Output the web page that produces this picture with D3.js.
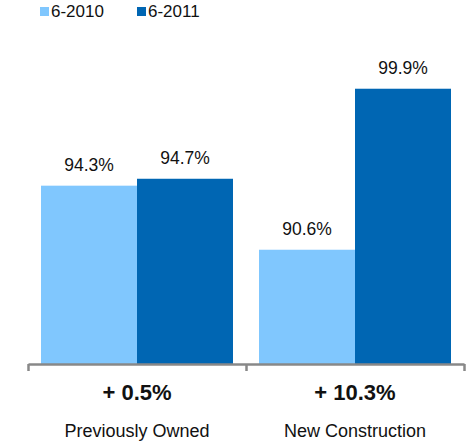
<!DOCTYPE html>
<html>
<head>
  <meta charset="utf-8">
  <style>
    body { margin: 0; background: #fff; }
    text { font-family: "Liberation Sans", Arial, Helvetica, sans-serif; fill: #111; }
  </style>
</head>
<body>
<div id="chart"></div>
<script src="https://d3js.org/d3.v7.min.js"></script>
<script>
const categories = ['Previously Owned', 'New Construction'];
const seriesNames = ['6-2010', '6-2011'];
const values2010 = [94.3, 90.6];
const values2011 = [94.7, 99.9];
const changeLabels = ['+ 0.5%', '+ 10.3%'];
const colors = ['#80c7fe', '#0066b3'];

const width = 471;
const height = 442;
const svg = d3.select('#chart')
  .append('svg')
  .attr('width', width)
  .attr('height', height);

const baseY = 364;

const x = d3.scaleBand()
  .domain(categories)
  .range([28, 464]);

const xSub = d3.scaleBand()
  .domain(seriesNames)
  .range([13, x.bandwidth() - 13]);

const y = d3.scaleLinear()
  .domain([84, 100])
  .range([baseY, 87]);

// bars
const rows = categories.map((c, i) => ({
  cat: c,
  vals: [values2010[i], values2011[i]]
}));

const groups = svg.append('g')
  .selectAll('g')
  .data(rows)
  .enter()
  .append('g')
  .attr('transform', d => 'translate(' + x(d.cat) + ',0)');

groups.selectAll('rect')
  .data(d => d.vals.map((v, j) => ({ name: seriesNames[j], v: v, j: j })))
  .enter()
  .append('rect')
  .attr('x', d => xSub(d.name))
  .attr('width', xSub.bandwidth())
  .attr('y', d => y(d.v))
  .attr('height', d => baseY - y(d.v))
  .attr('fill', d => colors[d.j]);

groups.selectAll('text.val')
  .data(d => d.vals.map((v, j) => ({ name: seriesNames[j], v: v })))
  .enter()
  .append('text')
  .attr('class', 'val')
  .attr('x', d => xSub(d.name) + xSub.bandwidth() / 2)
  .attr('y', d => y(d.v) - 15)
  .attr('text-anchor', 'middle')
  .style('font-size', '17.5px')
  .text(d => d.v.toFixed(1) + '%');

// axis with ticks on the group edges
const edge = d3.scaleLinear().domain([0, 2]).range([28, 464]);
const axis = svg.append('g')
  .attr('transform', 'translate(0,' + baseY + ')')
  .call(d3.axisBottom(edge).tickValues([0, 1, 2]).tickFormat('').tickSize(7).tickSizeOuter(0));
axis.select('.domain').attr('stroke', '#888').attr('stroke-width', 2.5);
axis.selectAll('.tick line').attr('stroke', '#888').attr('stroke-width', 2.5);

svg.append('g')
  .selectAll('text')
  .data(categories)
  .enter()
  .append('text')
  .attr('x', d => x(d) + x.bandwidth() / 2)
  .attr('y', 400)
  .attr('text-anchor', 'middle')
  .style('font-size', '22px')
  .style('font-weight', 'bold')
  .text((d, i) => changeLabels[i]);

svg.append('g')
  .selectAll('text')
  .data(categories)
  .enter()
  .append('text')
  .attr('x', d => x(d) + x.bandwidth() / 2)
  .attr('y', 437)
  .attr('text-anchor', 'middle')
  .style('font-size', '18px')
  .text(d => d);

// legend
const legendX = [40, 137];
const legend = svg.append('g')
  .selectAll('g')
  .data(seriesNames)
  .enter()
  .append('g')
  .attr('transform', (d, i) => 'translate(' + legendX[i] + ',0)');
legend.append('rect')
  .attr('y', 7)
  .attr('width', 9)
  .attr('height', 9)
  .attr('fill', (d, i) => colors[i]);
legend.append('text')
  .attr('x', 11)
  .attr('y', 17)
  .style('font-size', '17px')
  .text(d => d);
</script>
</body>
</html>
